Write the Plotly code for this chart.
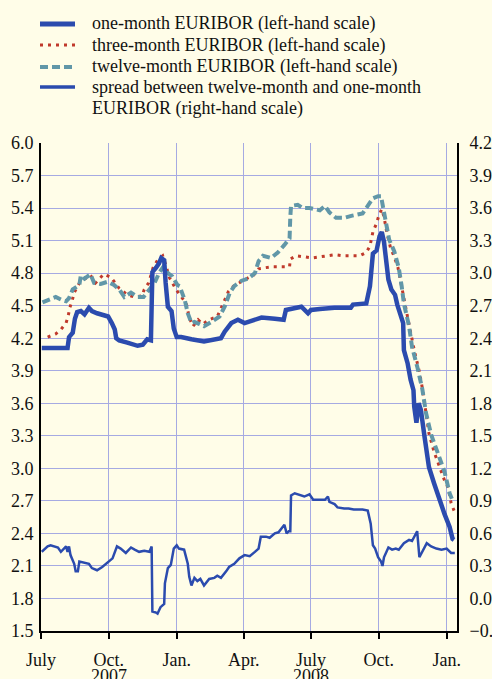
import plotly.graph_objects as go

# ---------------- data ----------------
m1_dates = ["2007-07-02", "2007-07-10", "2007-08-06", "2007-08-08", "2007-08-13", "2007-08-16",
            "2007-08-19", "2007-08-24", "2007-08-29", "2007-09-04", "2007-09-08", "2007-09-15",
            "2007-09-24", "2007-09-30", "2007-10-05", "2007-10-09", "2007-10-11", "2007-10-15",
            "2007-10-26", "2007-11-09", "2007-11-16", "2007-11-22", "2007-11-27", "2007-11-29",
            "2007-12-04", "2007-12-08", "2007-12-11", "2007-12-15", "2007-12-17", "2007-12-20",
            "2007-12-25", "2007-12-28", "2008-01-01", "2008-01-07", "2008-01-21", "2008-02-07",
            "2008-03-01", "2008-03-06", "2008-03-15", "2008-03-24", "2008-04-02", "2008-04-16",
            "2008-04-25", "2008-05-13", "2008-05-25", "2008-05-28", "2008-06-09", "2008-06-18",
            "2008-06-27", "2008-07-01", "2008-07-13", "2008-08-02", "2008-08-24", "2008-08-27",
            "2008-09-14", "2008-09-19", "2008-09-23", "2008-09-28", "2008-10-02", "2008-10-05",
            "2008-10-08", "2008-10-12", "2008-10-14", "2008-10-18", "2008-10-23", "2008-10-26",
            "2008-10-31", "2008-11-03", "2008-11-04", "2008-11-09", "2008-11-13", "2008-11-17",
            "2008-11-18", "2008-11-21", "2008-11-24", "2008-11-27", "2008-12-02", "2008-12-08",
            "2008-12-15", "2008-12-22", "2008-12-29", "2009-01-05", "2009-01-09", "2009-01-11"]
m1_values = [4.11, 4.11, 4.11, 4.21, 4.25, 4.38,
             4.44, 4.45, 4.42, 4.48, 4.45, 4.43,
             4.41, 4.40, 4.34, 4.28, 4.20, 4.18,
             4.16, 4.13, 4.14, 4.19, 4.18, 4.81,
             4.85, 4.89, 4.94, 4.92, 4.71, 4.49,
             4.45, 4.29, 4.21, 4.21, 4.19, 4.17,
             4.20, 4.26, 4.34, 4.37, 4.34, 4.37,
             4.39, 4.38, 4.37, 4.46, 4.48, 4.49,
             4.43, 4.46, 4.47, 4.48, 4.48, 4.51,
             4.52, 4.68, 4.98, 5.01, 5.14, 5.18,
             5.09, 4.89, 4.74, 4.65, 4.60, 4.51,
             4.41, 4.34, 4.09, 3.97, 3.82, 3.72,
             3.57, 3.42, 3.60, 3.54, 3.29, 3.01,
             2.86, 2.71, 2.58, 2.46, 2.35, 2.34]

m3_dates = ["2007-07-10", "2007-07-21", "2007-07-28", "2007-08-04", "2007-08-07", "2007-08-09",
            "2007-08-12", "2007-08-15", "2007-08-23", "2007-09-02", "2007-09-06", "2007-09-13",
            "2007-09-24", "2007-10-04", "2007-10-15", "2007-10-26", "2007-11-05", "2007-11-15",
            "2007-11-18", "2007-11-24", "2007-11-30", "2007-12-06", "2007-12-13", "2007-12-17",
            "2007-12-22", "2007-12-31", "2008-01-07", "2008-01-14", "2008-01-18", "2008-01-23",
            "2008-01-30", "2008-02-05", "2008-02-14", "2008-02-25", "2008-03-06", "2008-03-11",
            "2008-03-18", "2008-04-02", "2008-04-14", "2008-04-21", "2008-04-30", "2008-05-11",
            "2008-05-22", "2008-06-02", "2008-06-03", "2008-06-11", "2008-06-22", "2008-07-03",
            "2008-07-13", "2008-07-24", "2008-08-03", "2008-08-14", "2008-08-24", "2008-09-05",
            "2008-09-14", "2008-09-19", "2008-09-23", "2008-09-28", "2008-10-01", "2008-10-05",
            "2008-10-08", "2008-10-12", "2008-10-17", "2008-10-22", "2008-10-27", "2008-10-31",
            "2008-11-04", "2008-11-08", "2008-11-13", "2008-11-18", "2008-11-25", "2008-11-29",
            "2008-12-04", "2008-12-08", "2008-12-15", "2008-12-22", "2008-12-29", "2009-01-03",
            "2009-01-07", "2009-01-11"]
m3_values = [4.21, 4.24, 4.28, 4.34, 4.41, 4.48,
             4.54, 4.62, 4.72, 4.76, 4.78, 4.71,
             4.79, 4.76, 4.66, 4.60, 4.58, 4.59,
             4.65, 4.71, 4.85, 4.92, 4.96, 4.88,
             4.76, 4.65, 4.58, 4.52, 4.39, 4.31,
             4.37, 4.33, 4.37, 4.40, 4.55, 4.63,
             4.68, 4.74, 4.78, 4.84, 4.85, 4.86,
             4.86, 4.86, 4.93, 4.96, 4.95, 4.94,
             4.95, 4.96, 4.97, 4.96, 4.96, 4.96,
             4.99, 5.05, 5.18, 5.26, 5.33, 5.39,
             5.32, 5.17, 5.03, 4.95, 4.85, 4.69,
             4.57, 4.43, 4.25, 4.09, 3.89, 3.74,
             3.51, 3.32, 3.15, 3.02, 2.89, 2.82,
             2.68, 2.61]

m12_dates = ["2007-07-03", "2007-07-12", "2007-07-21", "2007-07-30", "2007-08-04", "2007-08-08",
             "2007-08-13", "2007-08-22", "2007-08-24", "2007-08-29", "2007-09-06", "2007-09-11",
             "2007-09-20", "2007-09-29", "2007-10-08", "2007-10-15", "2007-10-22", "2007-10-31",
             "2007-11-09", "2007-11-17", "2007-11-25", "2007-12-02", "2007-12-08", "2007-12-14",
             "2007-12-20", "2007-12-26", "2008-01-02", "2008-01-05", "2008-01-12", "2008-01-16",
             "2008-01-21", "2008-01-25", "2008-02-01", "2008-02-07", "2008-02-17", "2008-02-28",
             "2008-03-06", "2008-03-13", "2008-03-19", "2008-03-29", "2008-04-07", "2008-04-16",
             "2008-04-21", "2008-04-27", "2008-05-08", "2008-05-17", "2008-05-26", "2008-06-02",
             "2008-06-03", "2008-06-04", "2008-06-13", "2008-06-20", "2008-06-29", "2008-07-06",
             "2008-07-13", "2008-07-20", "2008-07-26", "2008-08-04", "2008-08-15", "2008-08-26",
             "2008-09-09", "2008-09-16", "2008-09-23", "2008-09-30", "2008-10-04", "2008-10-07",
             "2008-10-11", "2008-10-15", "2008-10-22", "2008-10-28", "2008-11-01", "2008-11-04",
             "2008-11-11", "2008-11-15", "2008-11-22", "2008-11-29", "2008-12-04", "2008-12-11",
             "2008-12-20", "2008-12-29", "2009-01-05", "2009-01-08"]
m12_values = [4.53, 4.56, 4.58, 4.55, 4.54, 4.57,
              4.65, 4.69, 4.78, 4.75, 4.79, 4.71,
              4.70, 4.72, 4.69, 4.65, 4.58, 4.62,
              4.58, 4.58, 4.65, 4.71, 4.80, 4.86,
              4.80, 4.77, 4.69, 4.68, 4.55, 4.43,
              4.34, 4.35, 4.33, 4.31, 4.35, 4.40,
              4.49, 4.62, 4.68, 4.73, 4.75, 4.80,
              4.91, 4.96, 4.94, 4.99, 5.06, 5.12,
              5.32, 5.42, 5.43, 5.40, 5.40, 5.39,
              5.38, 5.42, 5.36, 5.31, 5.31, 5.33,
              5.35, 5.42, 5.49, 5.51, 5.51, 5.40,
              5.26, 5.11, 5.00, 4.85, 4.68, 4.52,
              4.31, 4.12, 3.94, 3.73, 3.51, 3.31,
              3.14, 2.97, 2.77, 2.72]

spread_dates = ["2007-07-02", "2007-07-06", "2007-07-10", "2007-07-14", "2007-07-21", "2007-07-24",
                "2007-07-28", "2007-08-01", "2007-08-04", "2007-08-06", "2007-08-08", "2007-08-10",
                "2007-08-15", "2007-08-17", "2007-08-20", "2007-08-22", "2007-08-29", "2007-09-04",
                "2007-09-08", "2007-09-15", "2007-09-22", "2007-09-29", "2007-10-06", "2007-10-12",
                "2007-10-17", "2007-10-24", "2007-10-31", "2007-11-05", "2007-11-11", "2007-11-18",
                "2007-11-25", "2007-11-28", "2007-11-29", "2007-12-04", "2007-12-06", "2007-12-10",
                "2007-12-15", "2007-12-16", "2007-12-20", "2007-12-24", "2007-12-26", "2007-12-28",
                "2008-01-01", "2008-01-04", "2008-01-11", "2008-01-16", "2008-01-18", "2008-01-21",
                "2008-01-25", "2008-01-29", "2008-02-02", "2008-02-07", "2008-02-14", "2008-02-21",
                "2008-02-25", "2008-03-01", "2008-03-08", "2008-03-12", "2008-03-19", "2008-03-26",
                "2008-04-02", "2008-04-09", "2008-04-16", "2008-04-21", "2008-04-24", "2008-05-01",
                "2008-05-06", "2008-05-13", "2008-05-18", "2008-05-22", "2008-05-26", "2008-05-29",
                "2008-06-01", "2008-06-03", "2008-06-04", "2008-06-09", "2008-06-18", "2008-06-22",
                "2008-06-29", "2008-07-04", "2008-07-13", "2008-07-20", "2008-07-24", "2008-07-26",
                "2008-08-02", "2008-08-06", "2008-08-15", "2008-08-21", "2008-08-28", "2008-09-09",
                "2008-09-16", "2008-09-20", "2008-09-23", "2008-09-26", "2008-09-30", "2008-10-04",
                "2008-10-06", "2008-10-08", "2008-10-14", "2008-10-19", "2008-10-24", "2008-10-28",
                "2008-11-04", "2008-11-11", "2008-11-15", "2008-11-22", "2008-11-25", "2008-11-29",
                "2008-12-05", "2008-12-11", "2008-12-18", "2008-12-25", "2009-01-01", "2009-01-07",
                "2009-01-12"]
spread_values = [0.43, 0.46, 0.48, 0.49, 0.48, 0.47,
                 0.43, 0.46, 0.48, 0.43, 0.48, 0.40,
                 0.32, 0.25, 0.25, 0.34, 0.33, 0.32,
                 0.28, 0.26, 0.29, 0.33, 0.37, 0.48,
                 0.46, 0.42, 0.47, 0.45, 0.43, 0.44,
                 0.43, 0.48, -0.12, -0.13, -0.14, -0.08,
                 -0.05, 0.14, 0.28, 0.31, 0.40, 0.46,
                 0.49, 0.46, 0.45, 0.32, 0.20, 0.12,
                 0.19, 0.16, 0.18, 0.12, 0.18, 0.19,
                 0.21, 0.19, 0.25, 0.29, 0.32, 0.37,
                 0.40, 0.39, 0.43, 0.46, 0.57, 0.57,
                 0.56, 0.60, 0.61, 0.65, 0.68, 0.60,
                 0.62, 0.62, 0.95, 0.97, 0.95, 0.94,
                 0.96, 0.91, 0.91, 0.91, 0.94, 0.89,
                 0.87, 0.84, 0.83, 0.83, 0.82, 0.82,
                 0.81, 0.69, 0.49, 0.46, 0.38, 0.34,
                 0.30, 0.38, 0.47, 0.45, 0.46, 0.45,
                 0.51, 0.54, 0.53, 0.62, 0.38, 0.43,
                 0.51, 0.48, 0.46, 0.45, 0.46, 0.42,
                 0.42]

x_tick_dates = ["2007-07-01", "2007-10-01", "2008-01-01", "2008-04-01",
                "2008-07-01", "2008-10-01", "2009-01-01"]
x_tick_labels = ["July", "Oct.", "Jan.", "Apr.", "July", "Oct.", "Jan."]
year_labels = [("2007-10-01", "2007"), ("2008-07-01", "2008")]

legend_names = ["one-month EURIBOR (left-hand scale)",
                "three-month EURIBOR (left-hand scale)",
                "twelve-month EURIBOR (left-hand scale)",
                "spread between twelve-month and one-month",
                "EURIBOR (right-hand scale)"]

# ---------------- style ----------------
BG = "#FFFDE8"
BLUE = "#2B4BAE"
RED = "#C0392B"
TEAL = "#6197A8"
GRID = "#A6AAE2"
FONT = "Times New Roman, Liberation Serif, Tinos, DejaVu Serif, serif"
W, H = 492, 679
ML, MR, MT, MB = 41, 35, 143, 48
PW, PH = W - ML - MR, H - MT - MB

fig = go.Figure()
fig.add_trace(go.Scatter(x=m3_dates, y=m3_values, name=legend_names[1], mode="lines",
                         line=dict(color=RED, width=3, dash="3px,5px")))
fig.add_trace(go.Scatter(x=m12_dates, y=m12_values, name=legend_names[2], mode="lines",
                         line=dict(color=TEAL, width=4, dash="8px,4px")))
fig.add_trace(go.Scatter(x=m1_dates, y=m1_values, name=legend_names[0], mode="lines",
                         line=dict(color=BLUE, width=4.5)))
fig.add_trace(go.Scatter(x=spread_dates, y=spread_values, name=legend_names[3], mode="lines",
                         line=dict(color=BLUE, width=2.5), yaxis="y2"))

# custom legend (tight line spacing as in the original)
leg_rows = [24, 45, 67, 87]
leg_styles = [dict(color=BLUE, width=5), dict(color=RED, width=3, dash="3px,5px"),
              dict(color=TEAL, width=4, dash="8px,4px"), dict(color=BLUE, width=3.5)]
for yy, st in zip(leg_rows, leg_styles):
    fig.add_shape(type="line", xref="paper", yref="paper",
                  x0=(40 - ML) / PW, x1=(75 - ML) / PW,
                  y0=(H - MB - yy) / PH, y1=(H - MB - yy) / PH, line=st)
text_rows = [24, 45, 67, 87, 108]
for yy, txt in zip(text_rows, legend_names):
    fig.add_annotation(text=txt, xref="paper", yref="paper", x=(90 - ML) / PW,
                       y=(H - MB - yy) / PH, xanchor="left", yanchor="middle",
                       showarrow=False, font=dict(family=FONT, size=18, color="#111"))

for d, yr in year_labels:
    fig.add_annotation(text=yr, xref="x", yref="paper", x=d, y=0, yanchor="middle",
                       yshift=-45, showarrow=False, font=dict(family=FONT, size=18, color="#111"))

fig.update_layout(
    width=W, height=H,
    margin=dict(l=ML, r=MR, t=MT, b=MB, autoexpand=False),
    paper_bgcolor=BG, plot_bgcolor=BG,
    showlegend=False,
    font=dict(family=FONT, size=18, color="#111"),
    xaxis=dict(range=["2007-07-01", "2009-01-15"], tickvals=x_tick_dates, ticktext=x_tick_labels,
               showgrid=True, gridcolor=GRID, gridwidth=1, showline=True, linecolor="black",
               linewidth=2, ticks="outside", ticklen=6, tickwidth=2, tickcolor="black",
               zeroline=False, automargin=False, ticklabelstandoff=5,
               tickfont=dict(family=FONT, size=18, color="#111")),
    yaxis=dict(range=[1.5, 6.0], tickmode="linear", tick0=1.5, dtick=0.3, tickformat=".1f",
               showgrid=True, gridcolor=GRID, gridwidth=1, showline=True, linecolor="black",
               linewidth=2, ticks="", zeroline=False, automargin=False, ticklabelstandoff=2,
               tickfont=dict(family=FONT, size=18, color="#111")),
    yaxis2=dict(range=[-0.3, 4.2], tickmode="linear", tick0=-0.3, dtick=0.3, tickformat=".1f",
                overlaying="y", side="right", showgrid=False, showline=True, linecolor="black",
                linewidth=2, ticks="", zeroline=False, automargin=False, ticklabelstandoff=7,
                tickfont=dict(family=FONT, size=18, color="#111")),
)

fig.write_html("out.html", config={"displayModeBar": False},
               post_script="document.body.style.margin='0';"
                           "document.body.style.backgroundColor='" + BG + "';")
